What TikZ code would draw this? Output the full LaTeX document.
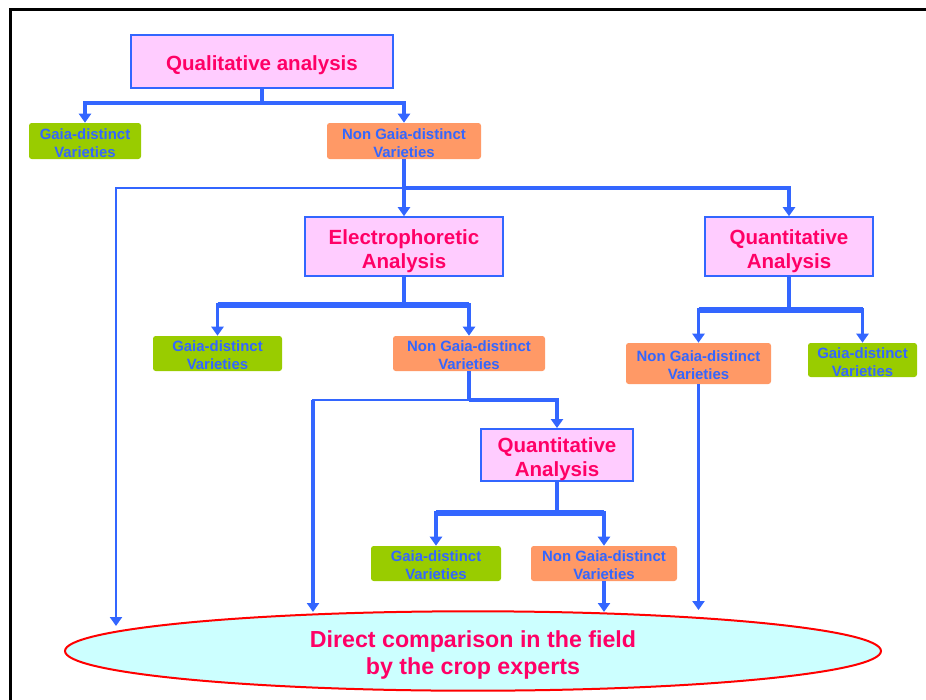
\documentclass[tikz,border=0pt]{standalone}
\usepackage{fontspec}
\setmainfont{Liberation Sans}
\usetikzlibrary{arrows.meta,shapes.geometric}
\definecolor{boxpink}{HTML}{FFCCFF}
\definecolor{linkblue}{HTML}{3366FF}
\definecolor{headred}{HTML}{FF0066}
\definecolor{gaiagreen}{HTML}{99CC00}
\definecolor{nongaia}{HTML}{FF9966}
\definecolor{fieldcyan}{HTML}{CCFFFF}
% struts that push the first text line down a little
\newcommand{\headstrut}{\rule{0pt}{18pt}}
\newcommand{\boxstrut}{\rule{0pt}{11pt}}
\newcommand{\fieldstrut}{\rule{0pt}{18.5pt}}
\begin{document}
\begin{tikzpicture}[x=0.75pt, y=-0.75pt,
    analysis/.style = {draw=linkblue, line width=1.2pt, fill=boxpink, text=headred,
        font=\fontsize{15.4}{18}\selectfont\bfseries, align=center, inner sep=0pt},
    gaia/.style = {fill=gaiagreen, rounded corners=2pt, text=linkblue,
        font=\fontsize{11.2}{13.5}\selectfont\bfseries, align=center, inner sep=0pt},
    nongaia/.style = {gaia, fill=nongaia},
    link/.style = {draw=linkblue, line width=2.6pt},
    bar/.style = {draw=linkblue, line width=3.8pt},
    thinlink/.style = {draw=linkblue, line width=1.8pt},
    tip/.style = {-{Triangle[length=6.75pt, width=9pt]}}]
    \useasboundingbox (0,0) rectangle (926,700);
    \draw[line width=2.4pt] (10.5,700) -- (10.5,9.5) -- (926,9.5);

    \node[analysis, minimum width=196.5pt, minimum height=39.75pt] (qual) at (262,61.5) {\rule{0pt}{17pt}Qualitative analysis};
    \node[gaia, minimum width=84pt, minimum height=27pt] (gA) at (85,141) {\boxstrut Gaia-distinct\\Varieties};
    \node[nongaia, minimum width=115.5pt, minimum height=27pt] (ngA) at (404,141) {\boxstrut Non Gaia-distinct\\Varieties};

    \node[analysis, minimum width=148.5pt, minimum height=44.25pt] (elec) at (404,246.5) {\headstrut Electrophoretic\\Analysis};
    \node[analysis, minimum width=126pt, minimum height=44.25pt] (quantR) at (789,246.5) {\headstrut Quantitative\\Analysis};

    \node[gaia, minimum width=96.75pt, minimum height=26.25pt] (gB) at (217.5,353.5) {\boxstrut Gaia-distinct\\Varieties};
    \node[nongaia, minimum width=114pt, minimum height=26.25pt] (ngB) at (469,353.5) {\boxstrut Non Gaia-distinct\\Varieties};
    \node[nongaia, minimum width=108.75pt, minimum height=30.75pt] (ngR) at (698.5,363.5) {\boxstrut Non Gaia-distinct\\Varieties};
    \node[gaia, minimum width=81.75pt, minimum height=25.5pt] (gR) at (862.5,360) {\boxstrut Gaia-distinct\\Varieties};

    \node[analysis, minimum width=114pt, minimum height=37.5pt] (quantM) at (557,455) {\headstrut Quantitative\\Analysis};
    \node[gaia, minimum width=97.5pt, minimum height=26.25pt] (gC) at (436,563.5) {\boxstrut Gaia-distinct\\Varieties};
    \node[nongaia, minimum width=109.5pt, minimum height=26.25pt] (ngC) at (604,563.5) {\boxstrut Non Gaia-distinct\\Varieties};

    \node[ellipse, draw=red, line width=1.5pt, fill=fieldcyan, minimum width=612pt, minimum height=58.5pt,
        inner sep=0pt, text=headred, align=center, font=\fontsize{17.4}{20}\selectfont\bfseries]
        (field) at (473,651) {\fieldstrut Direct comparison in the field\\by the crop experts};

    % junctions and free ends
    \coordinate (j1) at (qual.south |- 0,103);
    \coordinate (j2) at (ngA.south |- 0,188);
    \coordinate (j3) at (elec.south |- 0,305);
    \coordinate (j4) at (ngB.south |- 0,400);
    \coordinate (j5) at (quantM.south |- 0,513);
    \coordinate (j6) at (quantR.south |- 0,310);
    \coordinate (e1) at (116,626);
    \coordinate (e2) at (313,612);
    \coordinate (e3) at (ngC.south |- 0,612);
    \coordinate (e4) at (ngR.south |- 0,610);

    \draw[link] (qual.south) -- (j1);
    \draw[link, tip] (j1) -| (gA.north);
    \draw[link, tip] (j1) -| (ngA.north);

    \draw[link, tip] (ngA.south) -- (elec.north);
    \draw[link, tip] (j2) -| (quantR.north);
    \draw[thinlink, tip] (j2) -| (e1);

    \draw[link] (elec.south) -- (j3);
    \draw[bar] (gB.north |- j3) -- (ngB.north |- j3);
    \draw[link, tip] (j3) -| (gB.north);
    \draw[link, tip] (j3) -| (ngB.north);

    \draw[link] (ngB.south) -- (j4);
    \draw[link, tip] (j4) -| (quantM.north);
    \draw[thinlink] (j4) -| ([xshift=-1pt]e2 |- j4);
    \draw[link, tip] (e2 |- j4) -- (e2);

    \draw[link] (quantM.south) -- (j5);
    \draw[bar] (gC.north |- j5) -- (ngC.north |- j5);
    \draw[link, tip] (j5) -| (gC.north);
    \draw[link, tip] (j5) -| (ngC.north);
    \draw[link, tip] (ngC.south) -- (e3);

    \draw[link] (quantR.south) -- (j6);
    \draw[bar] (ngR.north |- j6) -- (gR.north |- j6);
    \draw[link, tip] (j6) -| (ngR.north);
    \draw[link, tip] (j6) -| (gR.north);
    \draw[thinlink, tip] (ngR.south) -- (e4);
\end{tikzpicture}
\end{document}
